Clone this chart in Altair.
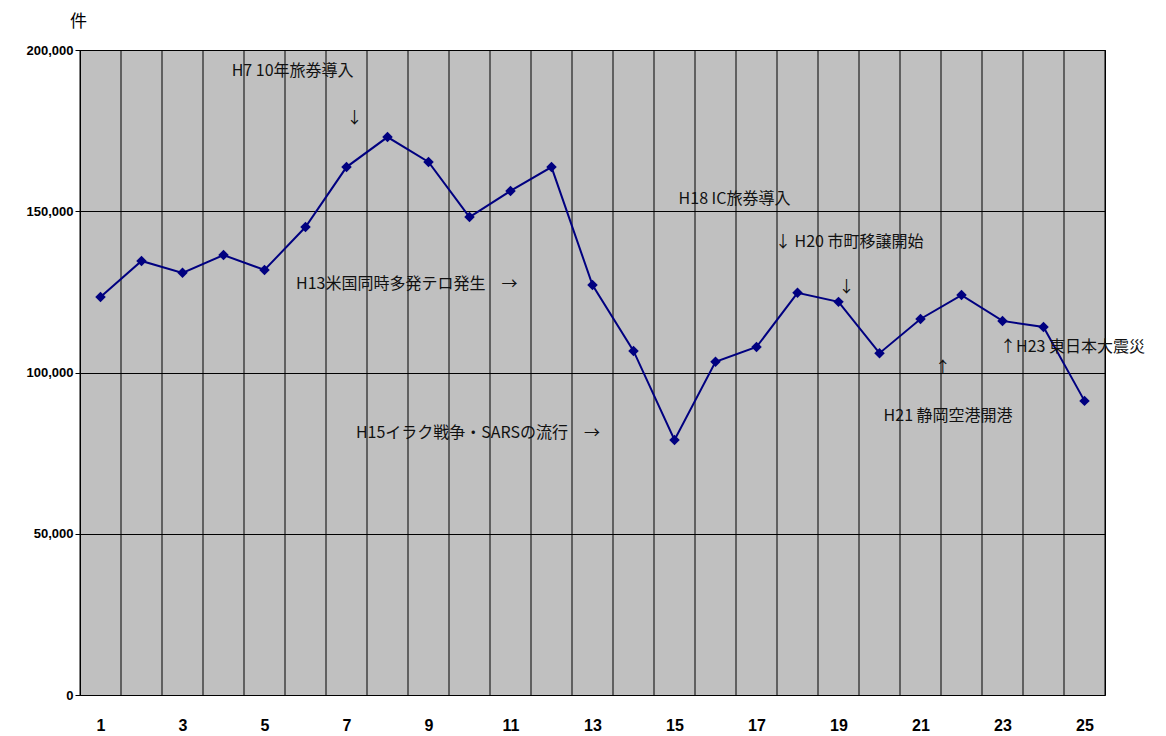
import altair as alt
import pandas as pd

years = list(range(1, 26))
counts = [123400, 134600, 130900, 136400, 131800, 145100, 163700, 173000, 165300, 148200,
          156300, 163700, 127100, 106700, 79100, 103300, 107900, 124700, 121900, 106000,
          116600, 124000, 116000, 114100, 91200]

notes = ["H7 10年旅券導入", "↓", "H18 IC旅券導入", "↓ H20 市町移譲開始", "↓",
         "H13米国同時多発テロ発生　→", "↑H23 東日本大震災", "↑", "H21 静岡空港開港",
         "H15イラク戦争・SARSの流行　→"]
note_x = [4.2, 7.0, 15.1, 17.45, 19.0, 5.77, 22.94, 21.35, 20.1, 7.23]
note_y = [193500, 179000, 153800, 140500, 126500, 127400, 107900, 101400, 86500, 81200]

df = pd.DataFrame({"year": years, "count": counts})
notes_df = pd.DataFrame({"text": notes, "x": note_x, "y": note_y})
bounds_df = pd.DataFrame({"b": [i + 0.5 for i in range(0, 26)]})

xs = alt.Scale(domain=[0.5, 25.5], nice=False, zero=False)
ys = alt.Scale(domain=[0, 200000], nice=False)

xaxis = alt.Axis(values=list(range(1, 26, 2)), grid=False, ticks=False, domain=False,
                 labelFontSize=16, labelFont="Liberation Sans", labelFontWeight="bold",
                 labelPadding=22, title=None)
yaxis = alt.Axis(values=[0, 50000, 100000, 150000, 200000], format=",d", grid=True,
                 gridColor="black", gridWidth=1, ticks=True, tickColor="black", domain=True,
                 domainColor="black", labelFontSize=13, labelFont="Liberation Sans",
                 labelFontWeight="bold",
                 title="件", titleAngle=0, titleX=-2, titleY=-20, titleFontSize=17,
                 titleFontWeight="normal", titleFont="Noto Sans CJK JP", titleAlign="center")

grid = alt.Chart(bounds_df).mark_rule(color="black", strokeWidth=1).encode(
    x=alt.X("b:Q", scale=xs, axis=xaxis)
)

line = alt.Chart(df).mark_line(color="#000080", strokeWidth=2,
                               point=alt.OverlayMarkDef(shape="diamond", size=110, color="#000080", filled=True)).encode(
    x=alt.X("year:Q", scale=xs, axis=xaxis),
    y=alt.Y("count:Q", scale=ys, axis=yaxis)
)

text = alt.Chart(notes_df).mark_text(align="left", baseline="middle", fontSize=16,
                                     font="Noto Sans CJK JP", color="#111111").encode(
    x=alt.X("x:Q", scale=xs, axis=xaxis),
    y=alt.Y("y:Q", scale=ys, axis=yaxis),
    text="text:N"
)

chart = alt.layer(grid, line, text).properties(
    width=1025, height=645,
    autosize=alt.AutoSizeParams(type="none"),
    padding={"left": 72, "top": 42, "right": 50, "bottom": 40}
).configure_view(fill="#c0c0c0", stroke="black", strokeWidth=1)

chart.save("out.html", embed_options={"renderer": "svg", "actions": False})
